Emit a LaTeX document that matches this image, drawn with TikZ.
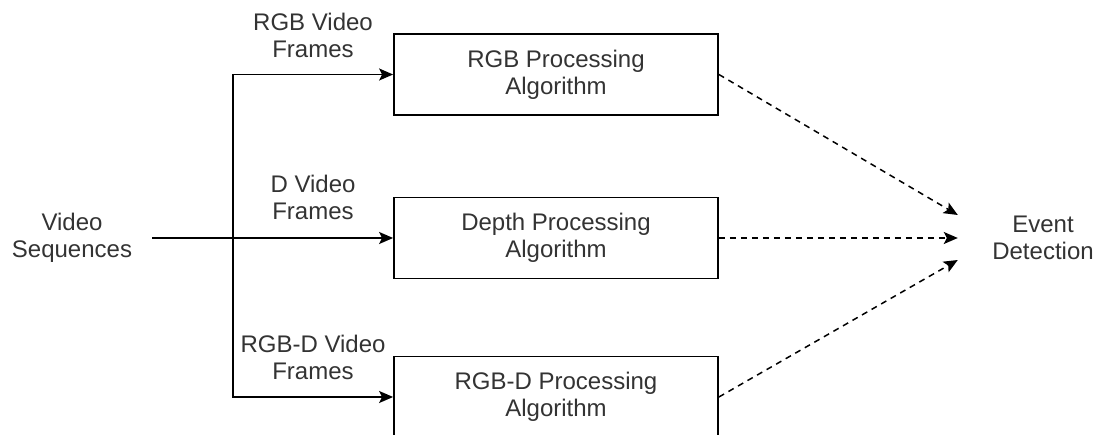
\documentclass[tikz,border=0pt]{standalone}
\usepackage{fontspec}
\setmainfont{Liberation Sans}
\usetikzlibrary{arrows.meta}
\definecolor{txt}{HTML}{333333}
\begin{document}
\begin{tikzpicture}[x=1pt,y=-1pt,
  font=\fontsize{24}{27}\selectfont,
  every node/.style={text=txt,align=center,inner sep=0pt},
  procbox/.style={draw=black,line width=1.8pt,minimum width=324pt,minimum height=81pt,fill=white},
  feed/.style={draw=black,line width=1.8pt,-{Stealth[length=14pt,width=12pt,inset=3pt]}},
  result/.style={draw=black,line width=1.5pt,dash pattern=on 6pt off 5pt,-{Stealth[length=14pt,width=12pt,inset=3pt]}}
]
\useasboundingbox (0,0) rectangle (1101,435);
\clip (0,0) rectangle (1101,435);

% processing stages
\node[procbox] (rgb) at (556,74.5) {RGB Processing\\Algorithm};
\node[procbox] (dep) at (556,238) {Depth Processing\\Algorithm};
\node[procbox] (rgbd) at (556,397) {RGB-D Processing\\Algorithm};

% input and output
\node[minimum width=160pt] (vs) at (72,238) {Video\\Sequences};
\node[minimum width=170pt] (ed) at (1043,238) {Event\\Detection};

% stream labels
\node (lrgb) at (313,35) {RGB Video\\Frames};
\node (ldep) at (313,197) {D Video\\Frames};
\node (lrgbd) at (313,357) {RGB-D Video\\Frames};

% split point of the input stream
\coordinate (split) at (233,238);

% input feeds
\draw[feed] (vs.east) -- (dep.west);
\draw[feed] (split) |- (rgb.west);
\draw[feed] (split) |- (rgbd.west);

% results to event detection
\draw[result] (rgb.east) -- ([yshift=23pt]ed.west);
\draw[result] (dep.east) -- (ed.west);
\draw[result] (rgbd.east) -- ([yshift=-22pt]ed.west);
\end{tikzpicture}
\end{document}
